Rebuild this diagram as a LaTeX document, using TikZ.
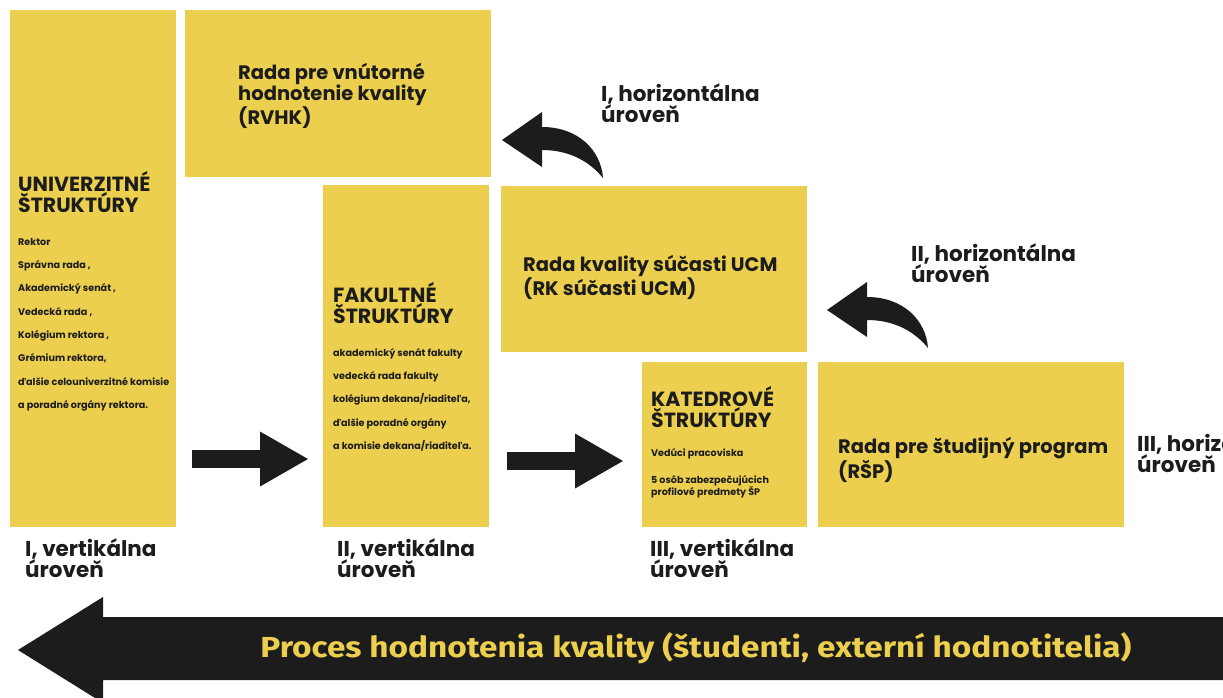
\documentclass[tikz,border=0pt]{standalone}
\usepackage{fontspec}
\setmainfont{Poppins}
\newfontfamily\procfont{Fira Sans}
\usetikzlibrary{arrows.meta, positioning}
\definecolor{ucmyellow}{RGB}{236,207,78}
\definecolor{ucmblack}{RGB}{28,28,28}
\tikzstyle{box}=[fill=ucmyellow, inner sep=0pt, anchor=north west]
\tikzstyle{txt}=[anchor=north west, inner sep=0pt, align=left, text=ucmblack]
\tikzstyle{big}=[txt, font=\bfseries\fontsize{20.5}{20}\selectfont]
\tikzstyle{mid}=[txt, font=\bfseries\fontsize{19.5}{21.5}\selectfont]
\tikzstyle{lvl}=[txt, font=\bfseries\fontsize{21.5}{21.5}\selectfont]
\tikzstyle{small}=[txt, font=\bfseries\fontsize{9.6}{23.3}\selectfont]
\tikzstyle{arr}=[draw=ucmblack, line width=18pt, -{Triangle[length=48pt, width=55pt, line width=0pt]}]

\begin{document}
\begin{tikzpicture}[x=1pt, y=-1pt]
    \useasboundingbox (0,0) rectangle (1223,697);
    \clip (0,0) rectangle (1223,697);

    % boxes
    \node [box, minimum width=166pt, minimum height=517pt] (univ) at (10,10) {};
    \node [box, minimum width=306pt, minimum height=167pt] (rvhk) at (185,10) {};
    \node [box, minimum width=166pt, minimum height=342pt] (fak) at (323,185) {};
    \node [box, minimum width=306pt, minimum height=166pt] (rk) at (501,186) {};
    \node [box, minimum width=165pt, minimum height=165pt] (kat) at (642,362) {};
    \node [box, minimum width=306pt, minimum height=165pt] (rsp) at (818,362) {};

    % texts in the boxes
    \node [big] (univT) at (18,171) {UNIVERZITNÉ\\ŠTRUKTÚRY};
    \node [small] (univL) at (18,238) {Rektor\\Správna rada ,\\Akademický senát ,\\Vedecká rada ,\\Kolégium rektora ,\\Grémium rektora,\\ďalšie celouniverzitné komisie\\a poradné orgány rektora.};
    \node [big] (fakT) at (333,282) {FAKULTNÉ\\ŠTRUKTÚRY};
    \node [small] (fakL) at (333,348) {akademický senát fakulty\\vedecká rada fakulty\\kolégium dekana/riaditeľa,\\ďalšie poradné orgány\\a komisie dekana/riaditeľa.};
    \node [big] (katT) at (651,386) {KATEDROVÉ\\ŠTRUKTÚRY};
    \node [small] (katL) at (651,448) {Vedúci pracoviska};
    \node [small, font=\bfseries\fontsize{9.6}{12}\selectfont] (katP) at (651,475) {5 osôb zabezpečujúcich\\profilové predmety ŠP};
    \node [mid] (rvhkT) at (238,63) {Rada pre vnútorné\\hodnotenie kvality\\(RVHK)};
    \node [mid] (rkT) at (523,255) {Rada kvality súčasti UCM\\(RK súčasti UCM)};
    \node [mid] (rspT) at (838,437) {Rada pre študijný program\\(RŠP)};

    % level labels
    \node [lvl] (v1) at (25,538) {I, vertikálna\\úroveň};
    \node [lvl] (v2) at (337,538) {II, vertikálna\\úroveň};
    \node [lvl] (v3) at (650,538) {III, vertikálna\\úroveň};
    \node [lvl] (h1) at (601,83) {I, horizontálna\\úroveň};
    \node [lvl] (h2) at (911,243) {II, horizontálna\\úroveň};
    \node [lvl] (h3) at (1137,433) {III, horizontálna\\úroveň};

    % straight arrows
    \coordinate (a1) at (192,459);
    \coordinate (b1) at (308,459);
    \coordinate (a2) at (507,461);
    \coordinate (b2) at (623,461);
    \draw [arr] (a1) -- (b1);
    \draw [arr] (a2) -- (b2);

    % curved arrows
    \foreach \dx/\dy in {0/0, 325/170}
        \fill [ucmblack, shift={(\dx,\dy)}] (502,140) -- (542,112) -- (542,127)
            .. controls (578,127) and (601,150) .. (603,178)
            .. controls (590,162) and (570,150) .. (542,150) -- (542,167) -- cycle;

    % process arrow
    \fill [ucmblack] (18,650) -- (103,597) -- (103,617) -- (1223,617) -- (1223,680)
        -- (103,680) -- (103,703) -- cycle;
    \node [text=ucmyellow, font=\procfont\bfseries\fontsize{29}{30}\selectfont] (proc) at (696,648)
        {\scalebox{1.15}[1]{Proces hodnotenia kvality (študenti, externí hodnotitelia)}};
\end{tikzpicture}
\end{document}
